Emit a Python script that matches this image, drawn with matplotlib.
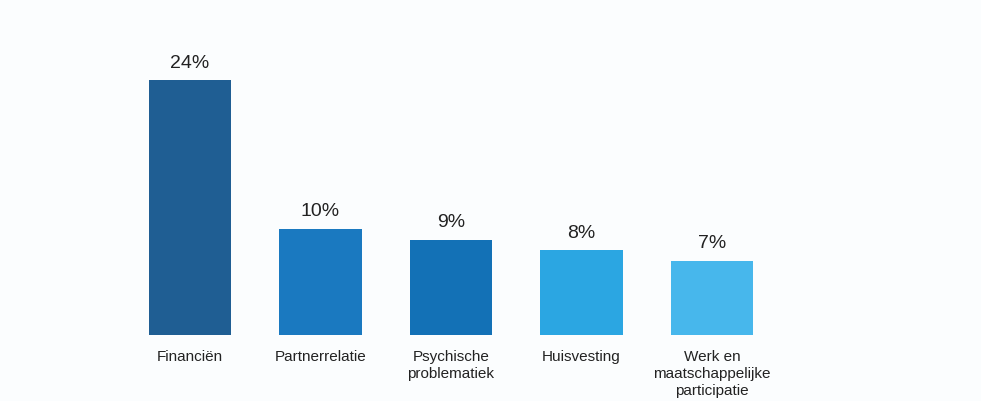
import matplotlib.pyplot as plt

categories = ['Financiën', 'Partnerrelatie', 'Psychische\nproblematiek',
              'Huisvesting', 'Werk en\nmaatschappelijke\nparticipatie']
values = [24, 10, 9, 8, 7]
value_labels = ['24%', '10%', '9%', '8%', '7%']
colors = ['#1f5e93', '#1a79c0', '#1371b6', '#2ba6e2', '#47b7ec']

bg = '#fbfdfe'
fig = plt.figure(figsize=(9.81, 4.01), dpi=100, facecolor=bg)
ax = fig.add_axes([0, 66 / 401, 1, 315 / 401])
ax.set_facecolor(bg)

x = list(range(len(values)))
ax.bar(x, values, width=0.63, color=colors)

# percentages above the bars
for xi, v, lab in zip(x, values, value_labels):
    ax.annotate(lab, (xi, v), xytext=(0, 9), textcoords='offset points',
                ha='center', va='baseline', fontsize=14, color='#222222',
                family=['Liberation Sans', 'DejaVu Sans'])

# category names under the bars
for xi, cat in zip(x, categories):
    ax.annotate(cat, (xi, 0), xytext=(0, -10.5), textcoords='offset points',
                ha='center', va='top', fontsize=11, color='#222222',
                linespacing=1.3,
                family=['Liberation Sans', 'DejaVu Sans'])

ax.set_xlim(-1.456, 6.061)
ax.set_ylim(0, 29.7)
ax.axis('off')

fig.savefig('out.png', dpi=100, facecolor=bg)
